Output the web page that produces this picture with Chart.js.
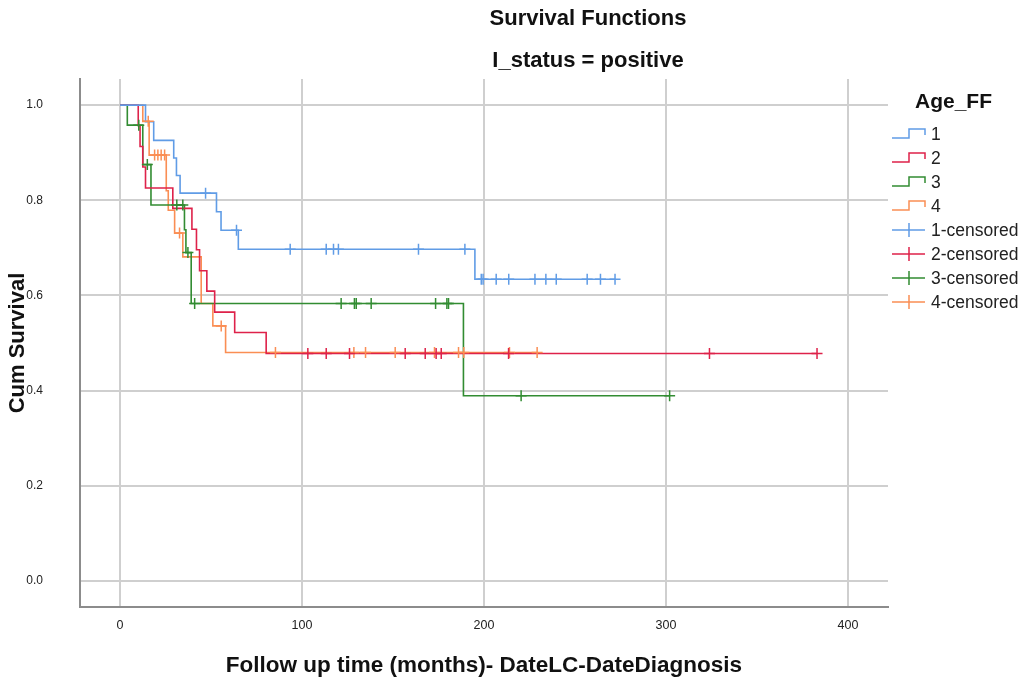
<!DOCTYPE html>
<html>
<head>
<meta charset="utf-8">
<title>Survival Functions</title>
<script src="https://cdn.jsdelivr.net/npm/chart.js@4.4.0/dist/chart.umd.min.js"></script>
<style>
  html, body { margin: 0; padding: 0; background: #fff; }
  #wrap { width: 1028px; height: 682px; }
</style>
</head>
<body>
<div id="wrap"><canvas id="out" width="1028" height="682"></canvas></div>
<script>
// Kaplan-Meier steps per age group: event times (months) and survival after each step
const groupNames = ["1", "2", "3", "4"];
const groupColors = ["rgb(96,156,230)", "rgb(222,34,74)", "rgb(50,140,50)", "rgb(250,142,84)"];

const g1Times = [0, 14, 18.5, 29.5, 31, 33, 53, 55.5, 65, 195, 272];
const g1Surv = [1, 0.965, 0.926, 0.889, 0.852, 0.815, 0.776, 0.737, 0.697, 0.634, 0.634];
const g1Censor = [47, 64, 93.5, 113.3, 117.3, 120, 164, 189.5, 198.5, 199.5, 206.7, 213.6, 228, 234, 239.7, 256.7, 264, 272];

const g2Times = [0, 10, 11, 12.5, 14, 29, 39.5, 42, 43.7, 47.7, 52, 63, 80.3, 383];
const g2Surv = [1, 0.957, 0.913, 0.870, 0.826, 0.783, 0.739, 0.696, 0.652, 0.609, 0.565, 0.522, 0.478, 0.478];
const g2Censor = [103.2, 113.3, 126.1, 156.7, 167.7, 173.7, 176.5, 213.5, 323.9, 383];

const g3Times = [0, 4, 12.5, 17, 35.4, 36.2, 39.1, 188.7, 302];
const g3Surv = [1, 0.958, 0.875, 0.79, 0.738, 0.69, 0.583, 0.389, 0.389];
const g3Censor = [10.3, 15, 31.2, 34.5, 37.3, 41, 121.5, 128.8, 129.8, 138, 173.4, 179.6, 180.5, 220.4, 302];

const g4Times = [0, 12.5, 16, 25.4, 26.5, 30, 34.5, 44.6, 51, 58, 229.2];
const g4Surv = [1, 0.966, 0.895, 0.82, 0.779, 0.731, 0.681, 0.583, 0.536, 0.48, 0.48];
const g4Censor = [15.5, 19, 20.8, 22.6, 24.5, 32.7, 55.6, 85.4, 128.5, 134.9, 151.2, 172.8, 186, 188.9, 214, 229.2];

const xTicks = [0, 100, 200, 300, 400];
const yTicks = [0, 0.2, 0.4, 0.6, 0.8, 1.0];

const groups = [
  { times: g1Times, surv: g1Surv, censor: g1Censor },
  { times: g2Times, surv: g2Surv, censor: g2Censor },
  { times: g3Times, surv: g3Surv, censor: g3Censor },
  { times: g4Times, surv: g4Surv, censor: g4Censor }
];

function survivalAt(times, surv, t) {
  let s = surv[0];
  for (let i = 0; i < times.length; i++) {
    if (times[i] <= t) s = surv[i];
  }
  return s;
}

const datasets = [];
groups.forEach((g, i) => {
  datasets.push({
    type: "line",
    label: groupNames[i],
    data: g.times.map((t, k) => ({ x: t, y: g.surv[k] })),
    stepped: "before", // horizontal first, then the drop
    borderColor: groupColors[i],
    borderWidth: 1.6,
    pointRadius: 0,
    fill: false,
    order: 2 + i
  });
});
groups.forEach((g, i) => {
  datasets.push({
    type: "scatter",
    label: groupNames[i] + "-censored",
    data: g.censor.map(t => ({ x: t, y: survivalAt(g.times, g.surv, t) })),
    pointStyle: "cross",
    pointRadius: 5.5,
    pointBorderWidth: 1.5,
    borderColor: groupColors[i],
    backgroundColor: groupColors[i],
    showLine: false,
    order: 1
  });
});

const FONT = "'Liberation Sans', Arial, sans-serif";

// titles and the legend on the right
const sideText = {
  id: "sideText",
  afterDraw(chart) {
    const ctx = chart.ctx;
    ctx.save();
    ctx.fillStyle = "#111";
    ctx.textAlign = "center";
    ctx.textBaseline = "middle";
    ctx.font = "bold 22px " + FONT;
    ctx.fillText("Survival Functions", 588, 19);
    ctx.fillText("I_status = positive", 588, 61);

    ctx.textAlign = "left";
    ctx.font = "bold 21px " + FONT;
    ctx.fillText("Age_FF", 915, 102);

    ctx.font = "17.5px " + FONT;
    ctx.fillStyle = "#222";
    const x0 = 892, x1 = 925;
    for (let i = 0; i < 8; i++) {
      const y = 134 + i * 24;
      const col = groupColors[i % 4];
      ctx.strokeStyle = col;
      ctx.lineWidth = 1.5;
      ctx.beginPath();
      if (i < 4) {
        ctx.moveTo(x0, y + 4);
        ctx.lineTo(x0 + 17, y + 4);
        ctx.lineTo(x0 + 17, y - 5);
        ctx.lineTo(x1, y - 5);
        ctx.lineTo(x1, y + 1);
      } else {
        ctx.moveTo(x0, y);
        ctx.lineTo(x1, y);
        ctx.moveTo(x0 + 17, y - 7);
        ctx.lineTo(x0 + 17, y + 7);
      }
      ctx.stroke();
      ctx.fillText(datasets[i].label, 931, y + 1);
    }
    ctx.restore();
  }
};

const canvasCtx = document.getElementById("out").getContext("2d");
const chart = new Chart(canvasCtx, {
  data: { datasets: datasets },
  options: {
    responsive: false,
    animation: false,
    layout: { padding: { left: 0, right: 140, top: 79, bottom: 0 } },
    plugins: { legend: { display: false }, tooltip: { enabled: false } },
    scales: {
      x: {
        type: "linear",
        min: -22,
        max: 422,
        afterBuildTicks: scale => { scale.ticks = xTicks.map(v => ({ value: v })); },
        afterFit: scale => { scale.height = 75; },
        grid: { color: "#cfcfcf", lineWidth: 2, drawTicks: false },
        border: { color: "#8c8c8c", width: 2 },
        ticks: { padding: 11, color: "#222", font: { family: FONT, size: 12.5 } },
        title: {
          display: true,
          text: "Follow up time (months)- DateLC-DateDiagnosis",
          color: "#111",
          font: { family: FONT, size: 22.5, weight: "bold" },
          padding: { top: 0, bottom: 3 }
        }
      },
      y: {
        type: "linear",
        min: -0.055,
        max: 1.055,
        afterBuildTicks: scale => { scale.ticks = yTicks.map(v => ({ value: v })); },
        afterFit: scale => { scale.width = 80; },
        grid: { color: "#cfcfcf", lineWidth: 2, drawTicks: false },
        border: { color: "#8c8c8c", width: 2 },
        ticks: {
          padding: 37,
          color: "#222",
          font: { family: FONT, size: 12 },
          callback: v => v.toFixed(1)
        },
        title: {
          display: true,
          text: "Cum Survival",
          color: "#111",
          font: { family: FONT, size: 22, weight: "bold" },
          padding: { top: 5, bottom: 0 }
        }
      }
    }
  },
  plugins: [sideText]
});
</script>
</body>
</html>
